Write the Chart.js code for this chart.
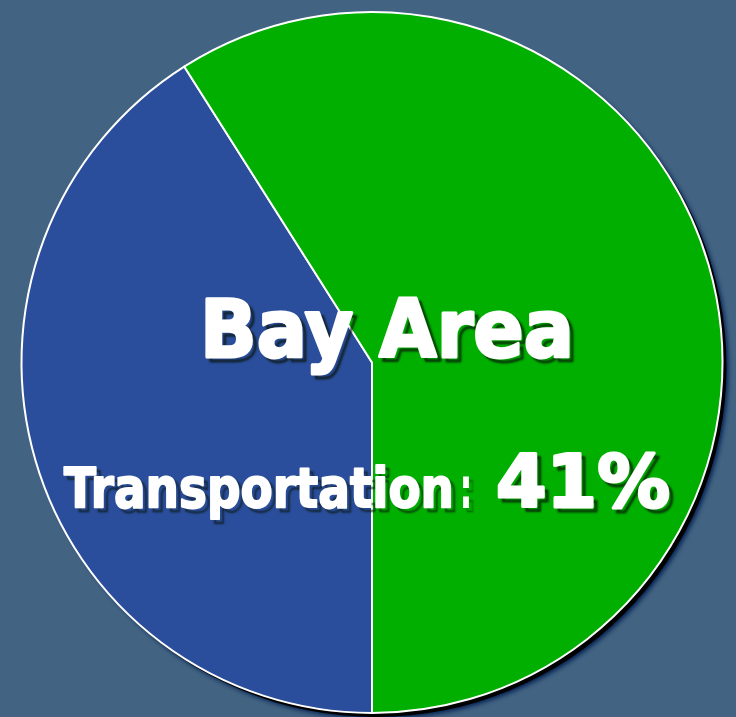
<!DOCTYPE html>
<html>
<head>
<meta charset="utf-8">
<script src="https://cdn.jsdelivr.net/npm/chart.js@4/dist/chart.umd.min.js"></script>
<style>
  html, body { margin: 0; padding: 0; background: #426382; }
  #wrap { width: 736px; height: 717px; position: relative; }
</style>
</head>
<body>
<div id="wrap"><canvas id="pie" width="736" height="717"></canvas></div>
<script>
// Bay Area emissions share - pie
const categories = ['Transportation', 'Other'];
const shares = [41, 59];
const sliceColors = ['#2a4e9b', '#00af00'];

const titleText = 'Bay Area';
const labelText = 'Transportation';
const valueText = shares[0] + '%';

// drop shadow under the pie
const pieShadow = {
    id: 'pieShadow',
    beforeDatasetsDraw(chart) {
        const arc = chart.getDatasetMeta(0).data[0];
        if (!arc) return;
        const ctx = chart.ctx;
        ctx.save();
        ctx.shadowColor = 'rgba(0, 30, 80, 0.9)';
        ctx.shadowBlur = 4;
        ctx.shadowOffsetX = 2;
        ctx.shadowOffsetY = 2;
        ctx.fillStyle = '#000';
        ctx.beginPath();
        ctx.arc(arc.x + 4, arc.y + 4, arc.outerRadius, 0, Math.PI * 2);
        ctx.fill();
        ctx.restore();
    }
};

// draw text squeezed to a target width, thickened with a stroke
function fitText(ctx, text, x, y, size, width, weight) {
    ctx.font = 'bold ' + size + 'px "DejaVu Sans", Verdana, sans-serif';
    const w = ctx.measureText(text).width;
    ctx.save();
    ctx.translate(x, y);
    ctx.scale(width / w, 1);
    ctx.lineJoin = 'round';
    ctx.lineWidth = weight;
    ctx.strokeStyle = '#ffffff';
    ctx.strokeText(text, 0, 0);
    ctx.shadowColor = 'transparent';
    ctx.fillText(text, 0, 0);
    ctx.restore();
}

const centerText = {
    id: 'centerText',
    afterDatasetsDraw(chart) {
        const ctx = chart.ctx;
        ctx.save();
        ctx.fillStyle = '#ffffff';
        ctx.textBaseline = 'alphabetic';
        ctx.textAlign = 'left';
        ctx.shadowColor = 'rgba(10, 20, 10, 0.75)';
        ctx.shadowBlur = 2;
        ctx.shadowOffsetX = 4;
        ctx.shadowOffsetY = 4;
        fitText(ctx, titleText, 200, 357, 80, 374, 3);
        fitText(ctx, labelText, 64, 507, 55, 390, 2);
        fitText(ctx, ':', 460, 507, 55, 12, 1);
        fitText(ctx, valueText, 496, 507, 73, 174, 3);
        ctx.restore();
    }
};

new Chart(document.getElementById('pie'), {
    type: 'pie',
    data: {
        labels: categories,
        datasets: [{
            data: shares,
            backgroundColor: sliceColors,
            borderColor: '#ffffff',
            borderWidth: 2
        }]
    },
    options: {
        responsive: false,
        animation: false,
        rotation: 180,
        layout: {
            padding: { left: 20, right: 12, top: 11, bottom: 3 }
        },
        plugins: {
            legend: { display: false },
            tooltip: { enabled: false }
        }
    },
    plugins: [pieShadow, centerText]
});
</script>
</body>
</html>
